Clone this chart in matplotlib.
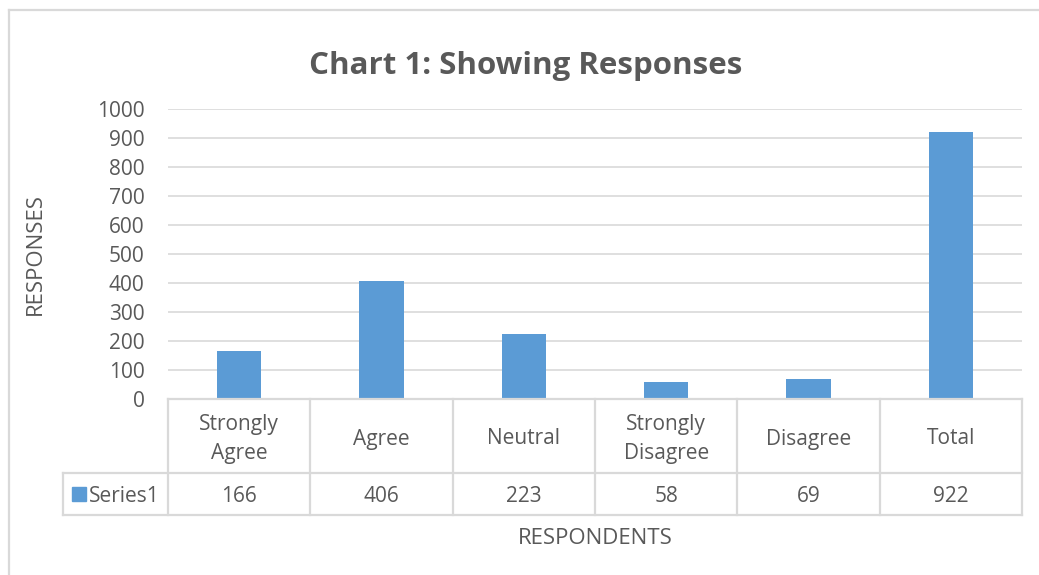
import matplotlib
matplotlib.use("Agg")
import matplotlib.pyplot as plt
import matplotlib.transforms as mtransforms
from matplotlib.lines import Line2D
from matplotlib.patches import Rectangle

# chart data
categories = ["Strongly\nAgree", "Agree", "Neutral", "Strongly\nDisagree", "Disagree", "Total"]
responses = [166, 406, 223, 58, 69, 922]
series_name = "Series1"
yticks = list(range(0, 1001, 100))

bar_color = "#5B9BD5"
text_color = "#595959"
line_color = "#D9D9D9"
fs = 15

plt.rcParams['font.family'] = ['Open Sans', 'DejaVu Sans']

W, H = 1039, 575
fig = plt.figure(figsize=(W / 100, H / 100), dpi=100)

# plot area in pixels
left, right, top, bottom = 168, 1022, 109, 399
ax = fig.add_axes([left / W, 1 - bottom / H, (right - left) / W, (bottom - top) / H])

x = list(range(len(categories)))
ax.bar(x, responses, width=0.31, color=bar_color, zorder=3)
ax.set_xlim(-0.5, len(categories) - 0.5)
ax.set_ylim(0, 1000)
ax.set_yticks(yticks)
ax.set_yticklabels([str(t) for t in yticks], fontsize=fs, color=text_color)
ax.tick_params(axis="y", length=0, pad=17)
ax.set_xticks([])
ax.grid(axis="y", color=line_color, linewidth=1.2, zorder=0)
for s in ax.spines.values():
    s.set_visible(False)

# data table under the axis
px = (right - left) / len(categories)   # pixels per category
ph = bottom - top
row1 = -74 / ph
row2 = -116 / ph
shift = -3 / ph   # nudge text down a little
legend_x = -0.5 - (left - 63) / px
trans = mtransforms.blended_transform_factory(ax.transData, ax.transAxes)

def hline(y, x0, x1):
    ax.add_line(Line2D([x0, x1], [y, y], transform=trans, color=line_color,
                       linewidth=1.6, clip_on=False, zorder=4))

def vline(xv, y0, y1):
    ax.add_line(Line2D([xv, xv], [y0, y1], transform=trans, color=line_color,
                       linewidth=1.6, clip_on=False, zorder=4))

hline(0, -0.5, len(categories) - 0.5)
hline(row1, legend_x, len(categories) - 0.5)
hline(row2, legend_x, len(categories) - 0.5)
for i in range(len(categories) + 1):
    vline(i - 0.5, 0, row2)
vline(legend_x, row1, row2)

for i, (c, v) in enumerate(zip(categories, responses)):
    ax.text(i, row1 / 2 + shift, c, transform=trans, ha="center", va="center",
            fontsize=fs, color=text_color, linespacing=1.5)
    ax.text(i, (row1 + row2) / 2 + shift, str(v), transform=trans, ha="center",
            va="center", fontsize=fs, color=text_color)

# legend key inside the table
ax.add_patch(Rectangle((legend_x + 9 / px, (row1 + row2) / 2 - 7 / ph), 14 / px, 14 / ph,
                       transform=trans, color=bar_color, clip_on=False, zorder=5))
ax.text(legend_x + 26 / px, (row1 + row2) / 2 + shift, series_name, transform=trans,
        ha="left", va="center", fontsize=fs, color=text_color)

# titles
fig.text(526 / W, 1 - 66 / H, "Chart 1: Showing Responses", ha="center", va="center",
         fontsize=22.5, fontweight="bold", color=text_color)
fig.text(35 / W, 1 - 254 / H, "RESPONSES", ha="center", va="center", rotation=90,
         fontsize=16, color=text_color)
fig.text(595 / W, 1 - 539 / H, "RESPONDENTS", ha="center", va="center",
         fontsize=16, color=text_color)

# chart border (only top and left visible)
fig.add_artist(Line2D([9 / W, 1], [1 - 10 / H, 1 - 10 / H], transform=fig.transFigure,
                      color=line_color, linewidth=1.6))
fig.add_artist(Line2D([9 / W, 9 / W], [0, 1 - 10 / H], transform=fig.transFigure,
                      color=line_color, linewidth=1.6))

fig.savefig("out.png", dpi=100)
